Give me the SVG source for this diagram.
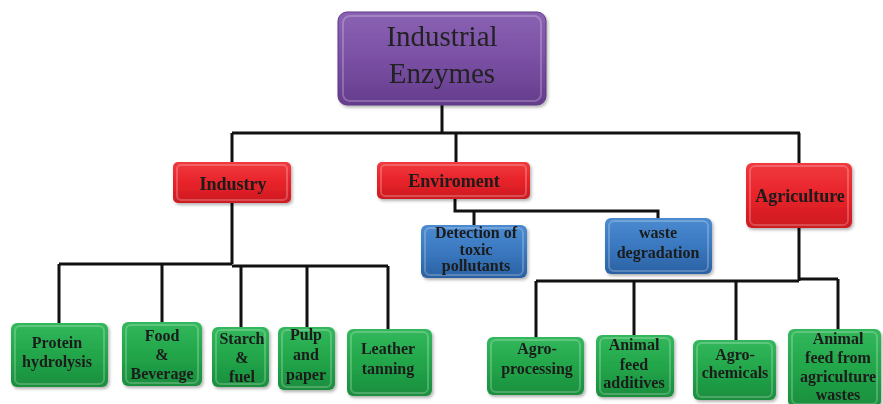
<svg xmlns="http://www.w3.org/2000/svg" width="883" height="404" viewBox="0 0 883 404">
<style>
.ln{fill:none;stroke:#111;stroke-width:3;stroke-linejoin:miter}
.hl{fill:none;stroke:#fff;stroke-opacity:0.22;stroke-width:2}
.t{font-family:"Liberation Serif","Times New Roman",serif;font-weight:bold;font-size:16px;fill:#1a1a1a;text-anchor:middle}
.tc{font-size:18px}
.tr{font-family:"Liberation Serif","Times New Roman",serif;font-size:29px;fill:#222;text-anchor:middle}
</style>
<defs>
<linearGradient id="gP" x1="0" y1="0" x2="0" y2="1"><stop offset="0" stop-color="#8a62b3"/><stop offset="0.5" stop-color="#7a50a4"/><stop offset="1" stop-color="#653c8d"/></linearGradient>
<linearGradient id="gR" x1="0" y1="0" x2="0" y2="1"><stop offset="0" stop-color="#f03a3e"/><stop offset="0.5" stop-color="#e8232a"/><stop offset="1" stop-color="#cc1a20"/></linearGradient>
<linearGradient id="gB" x1="0" y1="0" x2="0" y2="1"><stop offset="0" stop-color="#4b8bd0"/><stop offset="0.5" stop-color="#3a78c0"/><stop offset="1" stop-color="#2a61a3"/></linearGradient>
<linearGradient id="gG" x1="0" y1="0" x2="0" y2="1"><stop offset="0" stop-color="#33b85c"/><stop offset="0.5" stop-color="#22a64a"/><stop offset="1" stop-color="#1a8e3d"/></linearGradient>
<filter id="sh" x="-10%" y="-10%" width="125%" height="130%"><feDropShadow dx="1.5" dy="2" stdDeviation="1.5" flood-color="#000" flood-opacity="0.3"/></filter>
</defs>

<g id="connectors">
<path class="ln" d="M442 105 V133 M232 133 H800 M232 133 V162 M456 133 V162 M799 133 V163"/>
<path class="ln" d="M455 198 V211 H658 V218 M474 211 V225"/>
<path class="ln" d="M232 203 V264 M59 264 H232 M232 266 H388 M59 264 V323 M162 264 V322 M241 266 V327 M307 266 V327 M388 266 V329"/>
<path class="ln" d="M799 228 V281 M536 281 H799 M799 279 H838 M536 281 V337 M634 281 V335 M736 281 V340 M838 279 V329"/>
</g>

<g id="root" filter="url(#sh)"><rect x="338" y="12" width="208" height="93" rx="9" fill="url(#gP)" stroke="#5e3a84"/><rect x="343" y="16" width="198" height="85" rx="7" class="hl"/>
<text class="tr" x="442" y="46">Industrial</text><text class="tr" x="442" y="83">Enzymes</text></g>

<g id="industry" filter="url(#sh)"><rect x="173" y="162" width="118" height="41" rx="5" fill="url(#gR)"/><rect x="177" y="165" width="110" height="35" rx="4" class="hl"/><text class="t tc" x="233" y="190">Industry</text></g>
<g id="enviroment" filter="url(#sh)"><rect x="377" y="162" width="153" height="37" rx="5" fill="url(#gR)"/><rect x="381" y="165" width="145" height="31" rx="4" class="hl"/><text class="t tc" x="454" y="187">Enviroment</text></g>
<g id="agriculture" filter="url(#sh)"><rect x="746" y="163" width="106" height="65" rx="6" fill="url(#gR)"/><rect x="750" y="166" width="98" height="59" rx="5" class="hl"/><text class="t tc" x="800" y="202">Agriculture</text></g>

<g id="detection" filter="url(#sh)"><rect x="421" y="225" width="106" height="53" rx="6" fill="url(#gB)"/><rect x="425" y="228" width="98" height="47" rx="5" class="hl"/><text class="t" x="476" y="238">Detection of</text><text class="t" x="476" y="255">toxic</text><text class="t" x="476" y="271">pollutants</text></g>
<g id="waste" filter="url(#sh)"><rect x="605" y="218" width="107" height="56" rx="6" fill="url(#gB)"/><rect x="609" y="221" width="99" height="50" rx="5" class="hl"/><text class="t" x="658" y="238">waste</text><text class="t" x="658" y="258">degradation</text></g>

<g id="protein" filter="url(#sh)"><rect x="11" y="323" width="97" height="64" rx="6" fill="url(#gG)"/><rect x="15" y="326" width="89" height="58" rx="5" class="hl"/><text class="t" x="57" y="348">Protein</text><text class="t" x="57" y="367">hydrolysis</text></g>
<g id="food" filter="url(#sh)"><rect x="122" y="322" width="80" height="64" rx="6" fill="url(#gG)"/><rect x="126" y="325" width="72" height="58" rx="5" class="hl"/><text class="t" x="162" y="341">Food</text><text class="t" x="162" y="360">&amp;</text><text class="t" x="162" y="379">Beverage</text></g>
<g id="starch" filter="url(#sh)"><rect x="212" y="327" width="57" height="60" rx="6" fill="url(#gG)"/><rect x="216" y="330" width="49" height="54" rx="5" class="hl"/><text class="t" x="242" y="344">Starch</text><text class="t" x="242" y="363">&amp;</text><text class="t" x="242" y="382">fuel</text></g>
<g id="pulp" filter="url(#sh)"><rect x="278" y="327" width="57" height="63" rx="6" fill="url(#gG)"/><rect x="282" y="330" width="49" height="57" rx="5" class="hl"/><text class="t" x="306" y="340">Pulp</text><text class="t" x="306" y="360">and</text><text class="t" x="306" y="380">paper</text></g>
<g id="leather" filter="url(#sh)"><rect x="347" y="329" width="85" height="67" rx="6" fill="url(#gG)"/><rect x="351" y="332" width="77" height="61" rx="5" class="hl"/><text class="t" x="388" y="354">Leather</text><text class="t" x="388" y="374">tanning</text></g>

<g id="agroprocessing" filter="url(#sh)"><rect x="487" y="337" width="97" height="58" rx="6" fill="url(#gG)"/><rect x="491" y="340" width="89" height="52" rx="5" class="hl"/><text class="t" x="537" y="354">Agro-</text><text class="t" x="537" y="374">processing</text></g>
<g id="animalfeed" filter="url(#sh)"><rect x="596" y="335" width="78" height="62" rx="6" fill="url(#gG)"/><rect x="600" y="338" width="70" height="56" rx="5" class="hl"/><text class="t" x="634" y="350">Animal</text><text class="t" x="634" y="370">feed</text><text class="t" x="634" y="388">additives</text></g>
<g id="agrochemicals" filter="url(#sh)"><rect x="693" y="340" width="83" height="60" rx="6" fill="url(#gG)"/><rect x="697" y="343" width="75" height="54" rx="5" class="hl"/><text class="t" x="735" y="360">Agro-</text><text class="t" x="735" y="378">chemicals</text></g>
<g id="animalfeedwastes" filter="url(#sh)"><rect x="788" y="329" width="93" height="78" rx="6" fill="url(#gG)"/><rect x="792" y="332" width="85" height="72" rx="5" class="hl"/><text class="t" x="838" y="344">Animal</text><text class="t" x="838" y="363">feed from</text><text class="t" x="838" y="382">agriculture</text><text class="t" x="838" y="400">wastes</text></g>
</svg>
